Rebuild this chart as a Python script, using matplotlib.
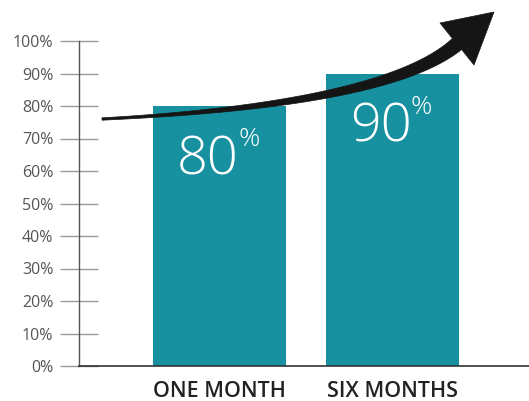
import matplotlib
matplotlib.use("Agg")
import matplotlib.pyplot as plt
from matplotlib.patches import Polygon
import numpy as np

categories = ["ONE MONTH", "SIX MONTHS"]
values = [80, 90]
value_labels = ["80", "90"]
ytick_values = list(range(0, 101, 10))
ytick_labels = [f"{v}%" for v in ytick_values]

W, H = 529, 401
fig = plt.figure(figsize=(W / 100, H / 100), dpi=100)
# axes: left edge at px 79, bottom (0%) at px 366, 100% at px 41
ax_left = 79 / W
ax_bottom = (H - 366) / H
ax_height = 366 / H
ax = fig.add_axes([ax_left, ax_bottom, 1 - ax_left, ax_height])
ax.set_ylim(0, 100 * 366 / 325)
ax.set_xlim(-0.8145, 1.794)

teal = "#1790a0"
x = np.arange(len(categories))
ax.bar(x, values, width=0.771, color=teal, zorder=2)

for side in ["top", "right"]:
    ax.spines[side].set_visible(False)
ax.spines["left"].set_bounds(0, 100)
ax.spines["left"].set_color("#555555")
ax.spines["left"].set_linewidth(1.0)
ax.spines["bottom"].set_color("#333333")
ax.spines["bottom"].set_linewidth(1.2)

ax.set_yticks(ytick_values)
ax.set_yticklabels(ytick_labels, fontsize=11.5, color="#555555", family="Open Sans")
ax.tick_params(axis="y", direction="inout", length=27, width=1.0, color="#9a9a9a", pad=5)
ax.set_xticks([])

for xi, cat in zip(x, categories):
    ax.text(xi, -4.6, cat, ha="center", va="top", fontsize=15.5, color="#222222",
            family="Open Sans", fontweight="semibold")

for xi, v, lab in zip(x, values, value_labels):
    ax.text(xi + 0.112, v - 21, lab, ha="right", va="baseline", fontsize=39,
            color="white", family="Open Sans", fontweight="light", zorder=3)
    ax.text(xi + 0.108, v - 6.5, "%", ha="left", va="top", fontsize=19,
            color="white", family="Open Sans", fontweight="light", zorder=3)

# decorative trend arrow (pixel geometry converted to figure fraction)
P0 = np.array([102.0, 119.0])
C1 = np.array([260.0, 111.0])
C2 = np.array([403.0, 90.5])
P2 = np.array([457.0, 44.0])
t = np.linspace(0, 1, 80)[:, None]
curve = (1 - t) ** 3 * P0 + 3 * (1 - t) ** 2 * t * C1 + 3 * (1 - t) * t ** 2 * C2 + t ** 3 * P2
d = np.gradient(curve, axis=0)
d /= np.linalg.norm(d, axis=1)[:, None]
nrm = np.stack([-d[:, 1], d[:, 0]], axis=1)
thick = (1.2 + 6.0 * t[:, 0] ** 1.3)[:, None]
upper = curve + nrm * thick
lower = curve - nrm * thick
tip = np.array([494.0, 12.0])
w1 = np.array([440.0, 23.0])
w2 = np.array([474.0, 65.0])
pts = np.vstack([upper, [w2 if np.dot(nrm[-1], w2 - P2) > 0 else w1], [tip],
                 [w1 if np.dot(nrm[-1], w2 - P2) > 0 else w2], lower[::-1]])
pts_fig = np.column_stack([pts[:, 0] / W, 1 - pts[:, 1] / H])
fig.patches.append(Polygon(pts_fig, closed=True, transform=fig.transFigure,
                           facecolor="#151515", edgecolor="#151515", lw=0.5, zorder=10))

fig.savefig("out.png", dpi=100)
